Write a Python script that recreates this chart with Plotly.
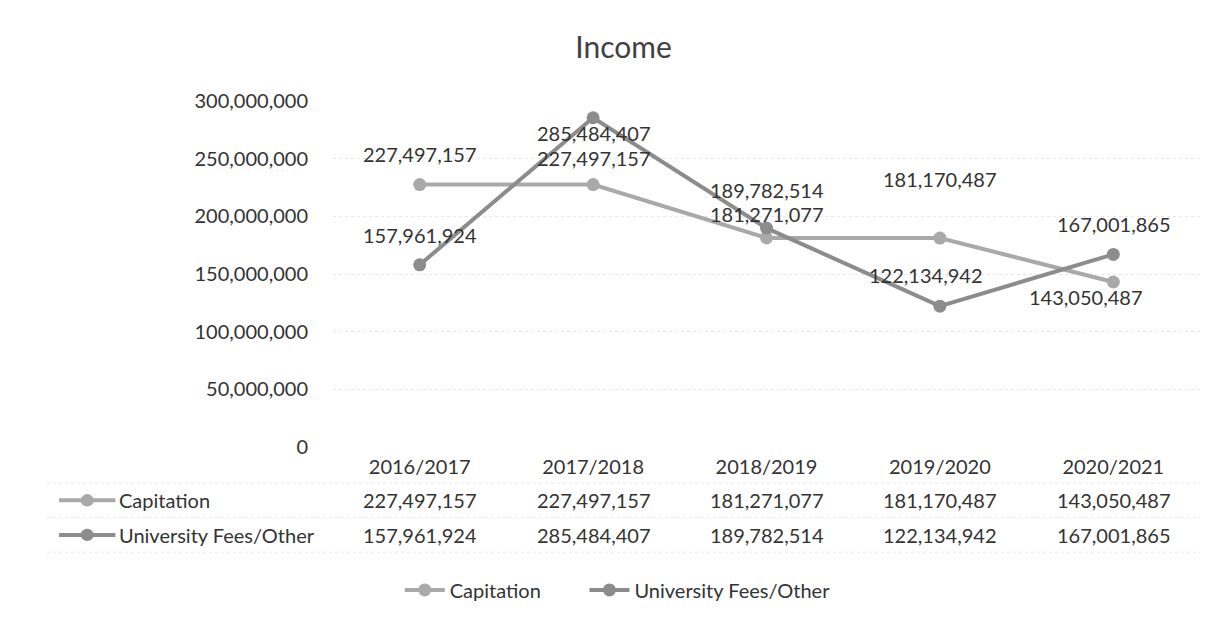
import plotly.graph_objects as go

categories = ["2016/2017", "2017/2018", "2018/2019", "2019/2020", "2020/2021"]
capitation = [227497157, 227497157, 181271077, 181170487, 143050487]
univ_fees = [157961924, 285484407, 189782514, 122134942, 167001865]
series_names = ["Capitation", "University Fees/Other"]
y_ticks = [0, 50000000, 100000000, 150000000, 200000000, 250000000, 300000000]

colors = ["#a9a9a9", "#8c8c8c"]
FONT = "Lato"
FS = 20
TXT = "#333333"

fig = go.Figure()
for i, (name, vals, col) in enumerate(zip(series_names, [capitation, univ_fees], colors)):
    fig.add_trace(go.Scatter(
        x=categories, y=vals, name=name, mode="lines+markers",
        line=dict(color=col, width=4),
        marker=dict(color=col, size=13, symbol="circle"),
        legend="legend" if i == 0 else "legend2",
    ))

# data label offsets (pixels) per series/point
cap_off = [(0, -31), (0, -27), (0, -24), (0, -59), (-28, 15)]
uni_off = [(0, -30), (0, 15), (0, -38), (-14, -31), (0, -30)]
annotations = []
for vals, offs in [(capitation, cap_off), (univ_fees, uni_off)]:
    for c, v, (dx, dy) in zip(categories, vals, offs):
        annotations.append(dict(x=c, y=v, text=f"{v:,}", showarrow=False,
                                xshift=dx, yshift=-dy, yanchor="middle",
                                font=dict(family=FONT, size=FS, color=TXT)))

# data table
row_y = [-0.154, -0.254]
for ry, name, vals in zip(row_y, series_names, [capitation, univ_fees]):
    for c, v in zip(categories, vals):
        annotations.append(dict(x=c, y=ry, xref="x", yref="paper", text=f"{v:,}",
                                showarrow=False, xanchor="center", yanchor="middle",
                                font=dict(family=FONT, size=FS, color=TXT)))
    annotations.append(dict(x=-0.249, y=ry, xref="paper", yref="paper", text=name,
                            xanchor="left", yanchor="middle", showarrow=False,
                            font=dict(family=FONT, size=FS, color=TXT)))

shapes = []
for ry, col in zip(row_y, colors):
    shapes.append(dict(type="line", xref="paper", yref="paper", x0=-0.316, x1=-0.251,
                       y0=ry, y1=ry, line=dict(color=col, width=4)))
    shapes.append(dict(type="circle", xref="paper", yref="paper",
                       x0=-0.291, x1=-0.276, y0=ry - 0.018, y1=ry + 0.018,
                       fillcolor=col, line=dict(color=col, width=0)))
# faint table lines
for ry in [-0.104, -0.204, -0.304]:
    shapes.append(dict(type="line", xref="paper", yref="paper", x0=-0.33, x1=1.0,
                       y0=ry, y1=ry, line=dict(color="#e8e8e8", width=1, dash="dot")))

legend_style = dict(orientation="h", yanchor="middle", y=-0.413, xanchor="left",
                    font=dict(family=FONT, size=FS, color=TXT), itemwidth=40,
                    bgcolor="rgba(0,0,0,0)")

fig.update_layout(
    width=1207, height=614,
    margin=dict(l=325, r=15, t=93, b=170),
    paper_bgcolor="white", plot_bgcolor="white",
    title=dict(text="Income", x=0.51, xanchor="center", y=0.935, yanchor="middle",
               font=dict(family=FONT, size=30, color="#404040")),
    font=dict(family=FONT, size=FS, color=TXT),
    xaxis=dict(range=[-0.5, 4.5], showgrid=False, zeroline=False, showline=False,
               ticks="", tickfont=dict(family=FONT, size=FS, color=TXT),
               ticklabelstandoff=6),
    yaxis=dict(range=[0, 300000000], tickvals=y_ticks,
               ticktext=[f"{t:,}" for t in y_ticks],
               showgrid=True, gridcolor="#e6e6e6", griddash="dot", gridwidth=1,
               zeroline=False, showline=False, ticks="",
               tickfont=dict(family=FONT, size=FS, color=TXT),
               ticklabelstandoff=24),
    showlegend=True,
    legend=dict(x=0.077, **legend_style),
    legend2=dict(x=0.290, **legend_style),
    annotations=annotations,
    shapes=shapes,
)

fig.write_html("out.html")
